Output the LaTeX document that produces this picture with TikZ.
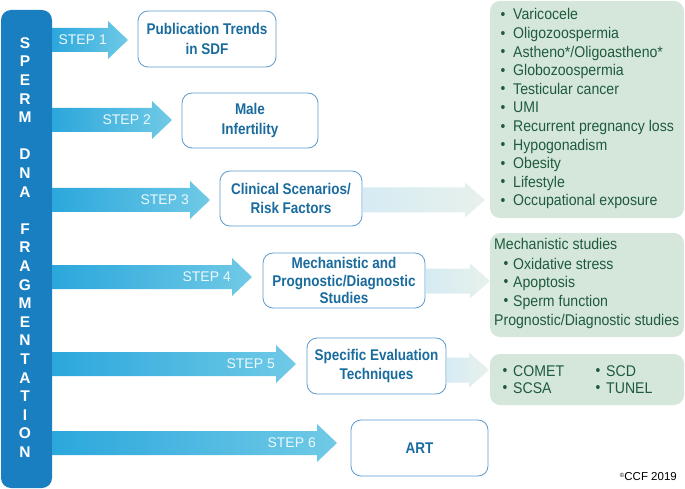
\documentclass[tikz,border=0pt]{standalone}
\usepackage{fontspec}
\setmainfont{Liberation Sans}
\newfontfamily\boxfont[FakeStretch=0.87]{Liberation Sans}
\newfontfamily\listfont[FakeStretch=0.91]{Liberation Sans}
\usepackage{xcolor}
\usepackage{tikz}
\usetikzlibrary{positioning,calc}
\definecolor{barblue}{HTML}{1A7FC1}
\definecolor{arrowdark}{HTML}{2BA7DC}
\definecolor{arrowlight}{HTML}{70CAE6}
\definecolor{boxline}{HTML}{5B9BD0}
\definecolor{boxtext}{HTML}{1A6B9E}
\definecolor{listfill}{HTML}{D5E7DA}
\definecolor{listtext}{HTML}{1F5A3C}
\definecolor{fadeblue}{HTML}{D6EBF4}
\definecolor{fadegreen}{HTML}{E7F1EB}

\begin{document}
\begin{tikzpicture}[x=1pt, y=-1pt,
                        topicbox/.style={draw=boxline, line width=0.8pt, fill=white, rounded corners=10pt, align=center, inner sep=0pt,
                            text=boxtext, font=\boxfont\bfseries\fontsize{15.5}{19.5}\selectfont},
                        listbox/.style={fill=listfill, rounded corners=10pt, inner sep=0pt},
                        listitem/.style={anchor=west, inner sep=0pt, text height=11pt, text depth=3pt,
                            text=listtext, font=\listfont\fontsize{15.5}{18}\selectfont},
                        listdot/.style={inner sep=0pt, text=listtext, font=\listfont\fontsize{15}{18}\selectfont},
                        steplabel/.style={inner sep=0pt, text=white!88!arrowlight, font=\fontsize{14}{14}\selectfont},
                        letter/.style={inner sep=0pt, text=white, font=\bfseries\fontsize{15.5}{15.5}\selectfont}]
                        \useasboundingbox (0,0) rectangle (685,489);

                        \node[fill=barblue, rounded corners=10pt, minimum width=51pt, minimum height=478pt, inner sep=0pt] (bar) at (26.5,249) {};
                        \foreach \c [count=\i] in {S,P,E,R,M,,D,N,A,,F,R,A,G,M,E,N,T,A,T,I,O,N}
                        \node[letter] (letter\i) at (25,43+18.6*\i-18.6) {\c};

                        \node[topicbox, minimum width=138pt, minimum height=56pt] (trends) at (207,39) {Publication Trends\\in SDF};
                        \node[topicbox, minimum width=136pt, minimum height=55pt] (infertility) at (250,120.5) {Male\\Infertility};
                        \node[topicbox, minimum width=142pt, minimum height=55pt] (clinical) at (291,198.5) {Clinical Scenarios/\\Risk Factors};
                        \node[topicbox, minimum width=162pt, minimum height=55pt, font=\boxfont\bfseries\fontsize{15.5}{17.5}\selectfont] (studies) at (344,280.5) {Mechanistic and\\Prognostic/Diagnostic\\Studies};
                        \node[topicbox, minimum width=139pt, minimum height=56pt] (techniques) at (376.5,366) {Specific Evaluation\\Techniques};
                        \node[topicbox, minimum width=137pt, minimum height=56pt] (art) at (419.5,448) {ART};

                        \coordinate (tip1) at (128,40);
                        \coordinate (tip2) at (172,120);
                        \coordinate (tip3) at (210,200);
                        \coordinate (tip4) at (252,277);
                        \coordinate (tip5) at (296,364);
                        \coordinate (tip6) at (337,443);
                        \foreach \k in {1,...,6}
                        \shade[left color=arrowdark, right color=arrowlight] let \p1=(tip\k), \p2=(bar.east) in
                            (\x2,\y1+12pt) -- (\x1-20pt,\y1+12pt) -- (\x1-20pt,\y1+19pt) -- (\p1)
                            -- (\x1-20pt,\y1-19pt) -- (\x1-20pt,\y1-12pt) -- (\x2,\y1-12pt) -- cycle;
                        \foreach \k in {1,...,6}
                        \node[steplabel, left=21pt of tip\k] (step\k) {STEP \k};

                        \coordinate (fade3) at (485,200);
                        \coordinate (fade4) at (490,281);
                        \coordinate (fade5) at (489,370);
                        \foreach \b/\k in {clinical/3, studies/4, techniques/5}
                        \shade[left color=fadeblue, right color=fadegreen] let \p1=(fade\k), \p2=(\b.east) in
                            (\x2+0.5pt,\y1+12.5pt) -- (\x1-20pt,\y1+12.5pt) -- (\x1-20pt,\y1+17.5pt) -- (\p1)
                            -- (\x1-20pt,\y1-17.5pt) -- (\x1-20pt,\y1-12.5pt) -- (\x2+0.5pt,\y1-12.5pt) -- cycle;

                        \node[listbox, minimum width=194pt, minimum height=217pt] (risks) at (587,109.5) {};
                        \foreach \t [count=\i] in {Varicocele, Oligozoospermia, Astheno*/Oligoastheno*, Globozoospermia, Testicular cancer, UMI,
                            Recurrent pregnancy loss, Hypogonadism, Obesity, Lifestyle, Occupational exposure}
                        {
                            \node[listdot] (riskdot\i) at (503,16+18.6*\i-18.6) {\textbullet};
                            \node[listitem] (risk\i) at (513,16+18.6*\i-18.6) {\t};
                        }

                        \node[listbox, minimum width=194pt, minimum height=104pt] (mechanisms) at (587,285) {};
                        \node[listitem] (mechhead) at (494,245) {Mechanistic studies};
                        \foreach \t/\y [count=\i] in {Oxidative stress/265, Apoptosis/283, Sperm function/302}
                        {
                            \node[listdot] (mechdot\i) at (506,\y) {\textbullet};
                            \node[listitem] (mech\i) at (513,\y) {\t};
                        }
                        \node[listitem] (proghead) at (494,321) {Prognostic/Diagnostic studies};

                        \node[listbox, minimum width=194pt, minimum height=51pt] (assays) at (587,379.5) {};
                        \foreach \t/\x/\y [count=\i] in {COMET/505/372, SCSA/505/389, SCD/598/372, TUNEL/598/389}
                        {
                            \node[listdot] (assaydot\i) at (\x,\y) {\textbullet};
                            \node[listitem] (assay\i) at (\x+8,\y) {\t};
                        }

                        \node[anchor=east, inner sep=0pt, font=\fontsize{11.5}{12}\selectfont] (ccf) at (677,477) {\raisebox{3.5pt}{\fontsize{6}{6}\selectfont ©}CCF 2019};
                    \end{tikzpicture}
\end{document}
